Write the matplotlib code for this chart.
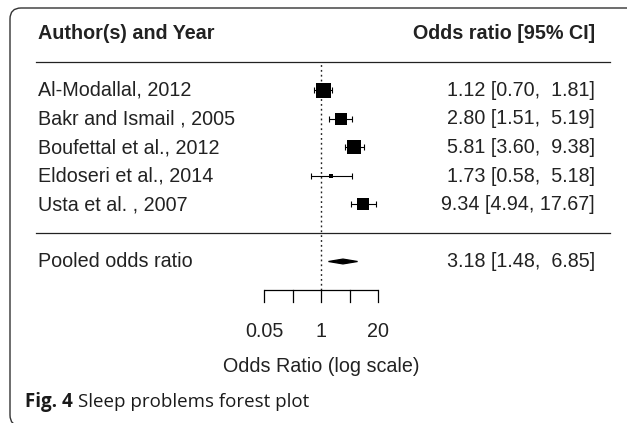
import numpy as np
import matplotlib
matplotlib.use("Agg")
import matplotlib.pyplot as plt
from matplotlib.patches import FancyBboxPatch, Polygon
from matplotlib.transforms import IdentityTransform, blended_transform_factory

studies = ["Al-Modallal, 2012", "Bakr and Ismail , 2005", "Boufettal et al., 2012",
           "Eldoseri et al., 2014", "Usta et al. , 2007"]
odds = [1.12, 2.80, 5.81, 1.73, 9.34]
ci_low = [0.70, 1.51, 3.60, 0.58, 4.94]
ci_high = [1.81, 5.19, 9.38, 5.18, 17.67]
weights = [21.8, 20.5, 21.7, 15.7, 20.3]   # estimated, only used for box size
pooled = [3.18, 1.48, 6.85]
tick_log = [-3, -1.5, 0, 1.5, 3]
tick_labels = ["0.05", "", "1", "", "20"]

W, H = 627, 423
fig = plt.figure(figsize=(W / 100, H / 100), dpi=100)
ax = fig.add_axes([0, 0, 1, 1])
ax.set_xscale("log")
# one natural-log unit = 19 px, OR=1 sits at x=321 px
ax.set_xlim(np.exp(-321 / 19), np.exp((W - 321) / 19))
# one row = 28.5 px, row 0 (lower rule) at y=233 px from top
ax.set_ylim((233 - H) / 28.5, 233 / 28.5)
ax.axis("off")

col = "#222222"
fs = 14.2
plt.rcParams["font.family"] = ["Liberation Sans", "DejaVu Sans"]
tx = blended_transform_factory(ax.transAxes, ax.transData)

k = len(studies)
rows = np.arange(k, 0, -1)

# header and rules
ax.text(38 / W, k + 2, "Author(s) and Year", transform=tx, fontsize=fs,
        fontweight="bold", color=col, va="center", ha="left")
ax.text(595 / W, k + 2, "Odds ratio [95% CI]", transform=tx, fontsize=fs,
        fontweight="bold", color=col, va="center", ha="right")
ax.axhline(k + 1, xmin=36 / W, xmax=610 / W, color=col, lw=0.9)
ax.axhline(0, xmin=36 / W, xmax=610 / W, color=col, lw=0.9)

# reference line at OR = 1
ax.vlines(1, -2, k + 1, colors=col, lw=1.0, linestyles=(0, (1.3, 2.2)))

# study rows
wmin, wmax = min(weights), max(weights)
for r, name, o, lo, hi, w in zip(rows, studies, odds, ci_low, ci_high, weights):
    ax.text(38 / W, r, name, transform=tx, fontsize=fs, color=col, va="center")
    ax.text(595 / W, r, f"{o:.2f} [{lo:.2f}, {hi:5.2f}]", transform=tx,
            fontsize=fs, color=col, va="center", ha="right")
    ax.errorbar(o, r, xerr=[[o - lo], [hi - o]], fmt="none", ecolor="black",
                elinewidth=0.8, capsize=2.2, capthick=0.8)
    size = 0.5 + (w - wmin) / (wmax - wmin)
    ax.plot(o, r, marker="s", color="black", markersize=size * 10 * 0.72,
            markeredgewidth=0)

# pooled estimate
ax.text(38 / W, -1, "Pooled odds ratio", transform=tx, fontsize=fs, color=col,
        va="center")
ax.text(595 / W, -1, f"{pooled[0]:.2f} [{pooled[1]:.2f}, {pooled[2]:5.2f}]",
        transform=tx, fontsize=fs, color=col, va="center", ha="right")
h = 0.085
ax.add_patch(Polygon([[pooled[1], -1], [pooled[0], -1 + h], [pooled[2], -1],
                      [pooled[0], -1 - h]], closed=True, facecolor="black",
                     edgecolor="black", lw=0.9))

# x axis drawn R style
ticks = np.exp(tick_log)
ax.plot([ticks[0], ticks[-1]], [-2, -2], color="black", lw=0.9,
        solid_capstyle="butt")
for t, lab in zip(ticks, tick_labels):
    ax.plot([t, t], [-2, -2.42], color="black", lw=0.9)
    ax.text(t, -3.45, lab, fontsize=fs, color=col, ha="center", va="center")
ax.text(1, -4.7, "Odds Ratio (log scale)", fontsize=fs, color=col,
        ha="center", va="center")

# frame around the figure panel
box = FancyBboxPatch((10, -3), 630, 418, boxstyle="round,pad=0,rounding_size=11",
                     transform=IdentityTransform(), facecolor="none",
                     edgecolor="#333333", lw=1.0)
fig.add_artist(box)

# caption
fig.canvas.draw()
cap1 = fig.text(25 / W, 1 - 402 / H, "Fig. 4", fontsize=13.5, fontweight="bold",
                family="Open Sans", color="#1a1a1a", va="center")
fig.canvas.draw()
bb = cap1.get_window_extent()
fig.text((bb.x1 + 5) / W, 1 - 402 / H, "Sleep problems forest plot",
         fontsize=13.5, family="Open Sans", color="#1a1a1a", va="center")

fig.savefig("out.png", dpi=100)
